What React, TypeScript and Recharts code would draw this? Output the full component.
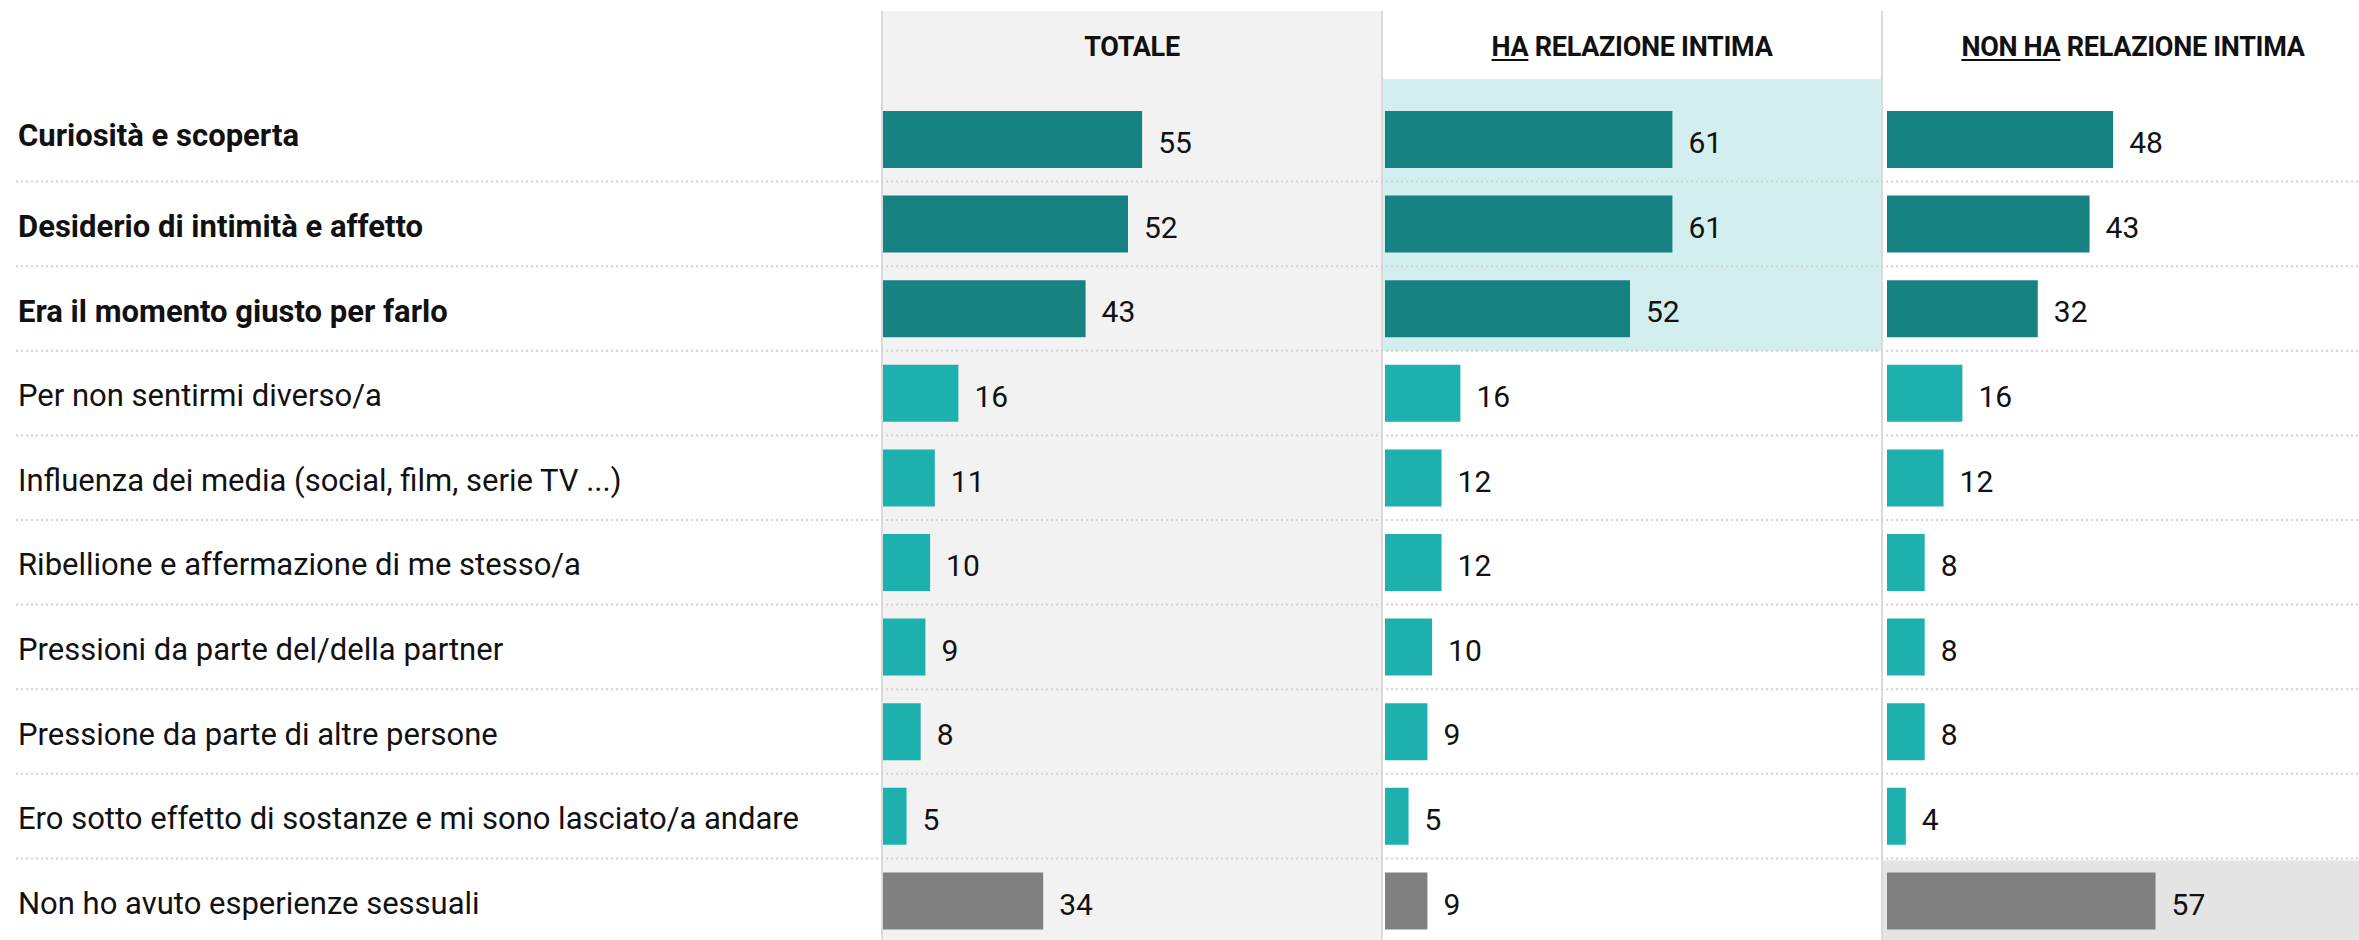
import { BarChart, Bar, XAxis, YAxis, Cell, LabelList, ReferenceArea } from "recharts";

const CATEGORIES = [
  "Curiosità e scoperta",
  "Desiderio di intimità e affetto",
  "Era il momento giusto per farlo",
  "Per non sentirmi diverso/a",
  "Influenza dei media (social, film, serie TV ...)",
  "Ribellione e affermazione di me stesso/a",
  "Pressioni da parte del/della partner",
  "Pressione da parte di altre persone",
  "Ero sotto effetto di sostanze e mi sono lasciato/a andare",
  "Non ho avuto esperienze sessuali",
];

// gruppo di ogni riga: motivi principali, altri motivi, nessuna esperienza
const ROW_GROUP = ["main", "main", "main", "other", "other", "other", "other", "other", "other", "none"];

const TOTALE = [55, 52, 43, 16, 11, 10, 9, 8, 5, 34];
const HA_RELAZIONE = [61, 61, 52, 16, 12, 12, 10, 9, 5, 9];
const NON_HA_RELAZIONE = [48, 43, 32, 16, 12, 8, 8, 8, 4, 57];

const GROUP_COLORS: Record<string, string> = {
  main: "#178282",
  other: "#1eb0ae",
  none: "#808080",
};

const data = CATEGORIES.map((cat, i) => ({
  cat,
  group: ROW_GROUP[i],
  totale: TOTALE[i],
  ha: HA_RELAZIONE[i],
  nonHa: NON_HA_RELAZIONE[i],
}));

const FONT = "Roboto, 'Noto Sans', sans-serif";
const CHART_W = 2400;
const CHART_H = 943;
const TOP = 97;
const PANEL_W = 498;
const AXIS_MAX = 105.7;
const LABEL_W = 883;

function CategoryTick(props: any) {
  const { y, payload, index } = props;
  const half = payload?.offset ?? 42.3;
  const isLast = index === CATEGORIES.length - 1;
  return (
    <g>
      <text
        x={18}
        y={y}
        dy={index === 0 ? 7 : 13}
        fontSize={31}
        fontFamily={FONT}
        fontWeight={index < 3 ? 700 : 400}
        fill="#111"
      >
        {payload.value}
      </text>
      {!isLast && (
        <line
          x1={16}
          x2={CHART_W}
          y1={y + half}
          y2={y + half}
          stroke="#d2d2d2"
          strokeWidth={2}
          strokeDasharray="2 3"
        />
      )}
    </g>
  );
}

function HighlightTop(props: any) {
  const { x, y, width, height } = props;
  return <rect x={x - 2} y={y - 18} width={width + 2} height={height + 18} fill="#d3eeee" />;
}

function HighlightLast(props: any) {
  const { x, y, width, height } = props;
  return <rect x={x - 4} y={y + 2} width={width + 40} height={height} fill="#e4e4e4" />;
}

function ValueBars({ dataKey }: { dataKey: string }) {
  return (
    <Bar dataKey={dataKey} barSize={57} isAnimationActive={false}>
      {data.map((d, i) => (
        <Cell key={i} fill={GROUP_COLORS[d.group]} />
      ))}
      <LabelList
        dataKey={dataKey}
        position="right"
        offset={16}
        dy={3}
        fontSize={30}
        fontFamily={FONT}
        fill="#111"
      />
    </Bar>
  );
}

const headerStyle: React.CSSProperties = {
  position: "absolute",
  top: 34,
  height: 27,
  lineHeight: "27px",
  fontSize: 27,
  fontWeight: 700,
  letterSpacing: -0.3,
  textAlign: "center",
  color: "#111",
  fontFamily: FONT,
  whiteSpace: "nowrap",
};

const underline: React.CSSProperties = {
  textDecoration: "underline",
  textDecorationThickness: 2,
  textUnderlineOffset: 3,
};

const layer: React.CSSProperties = { position: "absolute", left: 0, top: 0 };

export default function App() {
  return (
    <div
      style={{
        position: "fixed",
        left: 0,
        top: 0,
        width: 2359,
        height: 940,
        overflow: "hidden",
        background: "#fff",
        fontFamily: FONT,
      }}
    >
      {/* colonne */}
      <div
        style={{
          position: "absolute",
          left: 881,
          top: 11,
          width: 498,
          height: 940,
          background: "#f2f2f2",
          borderLeft: "2px solid #dadada",
          borderRight: "2px solid #dadada",
        }}
      />
      <div
        style={{
          position: "absolute",
          left: 1881,
          top: 11,
          width: 2,
          height: 940,
          background: "#dadada",
        }}
      />
      <div style={{ ...headerStyle, left: 883, width: 498 }}>TOTALE</div>
      <div style={{ ...headerStyle, left: 1383, width: 498 }}>
        <span style={underline}>HA</span> RELAZIONE INTIMA
      </div>
      <div style={{ ...headerStyle, left: 1883, width: 500 }}>
        <span style={underline}>NON HA</span> RELAZIONE INTIMA
      </div>

      {/* NON HA RELAZIONE INTIMA */}
      <div style={layer}>
        <BarChart
          layout="vertical"
          width={CHART_W}
          height={CHART_H}
          data={data}
          margin={{ top: TOP, right: CHART_W - 1887 - PANEL_W, bottom: 0, left: 1887 }}
        >
          <XAxis type="number" hide domain={[0, AXIS_MAX]} />
          <YAxis type="category" dataKey="cat" hide />
          <ReferenceArea
            y1={CATEGORIES[9]}
            y2={CATEGORIES[9]}
            fill="#e4e4e4"
            fillOpacity={1}
            shape={HighlightLast}
          />
          {ValueBars({ dataKey: "nonHa" })}
        </BarChart>
      </div>

      {/* HA RELAZIONE INTIMA */}
      <div style={layer}>
        <BarChart
          layout="vertical"
          width={CHART_W}
          height={CHART_H}
          data={data}
          margin={{ top: TOP, right: CHART_W - 1385 - 496, bottom: 0, left: 1385 }}
        >
          <XAxis type="number" hide domain={[0, 496 / (PANEL_W / AXIS_MAX)]} />
          <YAxis type="category" dataKey="cat" hide />
          <ReferenceArea
            y1={CATEGORIES[0]}
            y2={CATEGORIES[2]}
            fill="#d3eeee"
            fillOpacity={1}
            shape={HighlightTop}
          />
          {ValueBars({ dataKey: "ha" })}
        </BarChart>
      </div>

      {/* etichette + TOTALE */}
      <div style={layer}>
        <BarChart
          layout="vertical"
          width={CHART_W}
          height={CHART_H}
          data={data}
          margin={{ top: TOP, right: CHART_W - LABEL_W - PANEL_W, bottom: 0, left: 0 }}
        >
          <XAxis type="number" hide domain={[0, AXIS_MAX]} />
          <YAxis
            type="category"
            dataKey="cat"
            width={LABEL_W}
            axisLine={false}
            tickLine={false}
            interval={0}
            tick={(p: any) => <CategoryTick {...p} />}
          />
          {ValueBars({ dataKey: "totale" })}
        </BarChart>
      </div>
    </div>
  );
}
